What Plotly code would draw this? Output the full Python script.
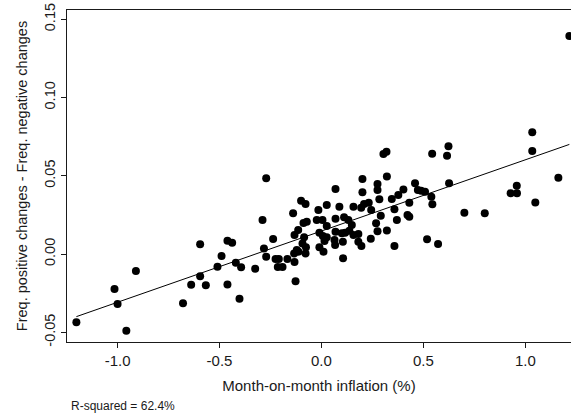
import numpy as np
import plotly.graph_objects as go

# Month-on-month inflation (%) and net frequency of price changes
inflation = [
    -1.202, -1.000, -1.015, -0.957, -0.910, -0.679, -0.639, -0.595, -0.595, -0.567,
    -0.510, -0.490, -0.461, -0.461, -0.438, -0.420, -0.394, -0.402, -0.325, -0.271,
    -0.289, -0.282, -0.271, -0.237, -0.225, -0.209, -0.214, -0.191, -0.167, -0.139,
    -0.134, -0.132, -0.127, -0.132, -0.114, -0.100, -0.078, -0.088, -0.072, -0.085,
    -0.093, -0.076, -0.113, -0.078, -0.121,
    -0.023, 0.005, 0.026, -0.015, 0.069, 0.088, 0.069, 0.026, -0.010, 0.007,
    0.026, -0.010, 0.010, 0.015, 0.064, 0.067, 0.069, 0.105, 0.106, 0.111,
    0.132, 0.116, 0.137, 0.149, 0.157, 0.181, 0.181, 0.196, 0.201, 0.201,
    0.195, 0.209, 0.232, 0.244, 0.242, 0.275, 0.275, 0.284, 0.291, 0.268,
    0.275, 0.321, 0.321, 0.345, 0.358, 0.370, 0.358, 0.377, 0.402, 0.431,
    0.422, 0.431, 0.459, 0.473, 0.489, 0.508, 0.539, 0.544, 0.518, 0.572,
    0.626, 0.701, 0.801, 0.928, 0.958, 0.959, 1.049, 1.162, 1.216, 1.034,
    1.034, 0.304, 0.319, 0.543, 0.623, 0.616, 0.100, 0.157,
]
net_freq = [
    -0.0436, -0.0319, -0.0224, -0.0490, -0.0109, -0.0315, -0.0196, -0.0142, 0.0062, -0.0200,
    -0.0081, -0.0013, -0.0194, 0.0085, 0.0072, -0.0056, -0.0085, -0.0286, -0.0094, 0.0484,
    0.0217, 0.0036, -0.0017, 0.0096, -0.0032, -0.0032, -0.0083, -0.0083, -0.0032, 0.0260,
    0.0004, -0.0051, -0.0174, 0.0121, 0.0153, 0.0341, 0.0319, 0.0198, 0.0206, 0.0107,
    0.0068, 0.0043, 0.0015, 0.0004, 0.0026,
    0.0217, 0.0217, 0.0313, 0.0281, 0.0415, 0.0302, 0.0226, 0.0179, 0.0136, 0.0115,
    0.0107, 0.0043, 0.0015, 0.0083, 0.0089, 0.0058, 0.0142, 0.0079, -0.0027, 0.0235,
    0.0217, 0.0136, 0.0149, 0.0185, 0.0302, 0.0128, 0.0079, 0.0051, 0.0479, 0.0394,
    0.0296, 0.0319, 0.0328, 0.0281, 0.0098, 0.0447, 0.0409, 0.0350, 0.0245, 0.0196,
    0.0145, 0.0496, 0.0151, 0.0351, 0.0286, 0.0217, 0.0051, 0.0377, 0.0413, 0.0328,
    0.0249, 0.0238, 0.0452, 0.0409, 0.0404, 0.0398, 0.0366, 0.0318, 0.0094, 0.0064,
    0.0452, 0.0264, 0.0260, 0.0388, 0.0436, 0.0388, 0.0330, 0.0488, 0.1393, 0.0778,
    0.0658, 0.0639, 0.0654, 0.0641, 0.0688, 0.0628, 0.0132, 0.0121,
]

# Linear fit
fit_intercept = 0.0147
fit_slope = 0.0455
r_squared = 62.4

x_ticks = [-1.0, -0.5, 0.0, 0.5, 1.0]
x_tick_labels = ["-1.0", "-0.5", "0.0", "0.5", "1.0"]
y_ticks = [-0.05, 0.0, 0.05, 0.10, 0.15]
y_tick_labels = ["-0.05", "0.00", "0.05", "0.10", "0.15"]

font_family = "Liberation Sans, Arial, sans-serif"
ink = "#1a1a1a"

fit_x = np.array([min(inflation), max(inflation)])
fit_y = fit_intercept + fit_slope * fit_x

fig = go.Figure()
fig.add_trace(go.Scatter(
    x=inflation, y=net_freq, mode="markers",
    marker=dict(color="black", size=8, line=dict(width=0)),
    showlegend=False, hoverinfo="skip",
))
fig.add_trace(go.Scatter(
    x=fit_x, y=fit_y, mode="lines",
    line=dict(color="black", width=1),
    showlegend=False, hoverinfo="skip",
))

fig.update_layout(
    width=571, height=413,
    margin=dict(l=67, r=0, t=10, b=71),
    paper_bgcolor="white", plot_bgcolor="white",
    font=dict(family=font_family, color=ink, size=14.5),
    xaxis=dict(
        range=[-1.248, 1.224],
        tickvals=x_ticks, ticktext=x_tick_labels,
        showgrid=False, zeroline=False,
        showline=True, linecolor=ink, linewidth=1.3, mirror=True,
        ticks="outside", ticklen=5, tickcolor=ink, tickwidth=1,
        tickfont=dict(size=15),
        title=dict(text="Month-on-month inflation (%)", font=dict(size=15), standoff=12),
    ),
    yaxis=dict(
        range=[-0.0562, 0.1559],
        tickvals=y_ticks, ticktext=y_tick_labels,
        tickangle=-90,
        showgrid=False, zeroline=False,
        showline=True, linecolor=ink, linewidth=1.3,
        ticks="outside", ticklen=5, tickcolor=ink, tickwidth=1,
        tickfont=dict(size=14.5),
        title=dict(text="Freq. positive changes - Freq. negative changes",
                   font=dict(size=14.5), standoff=10),
    ),
    annotations=[dict(
        text=f"R-squared = {r_squared}%",
        xref="paper", yref="paper", x=0.004, y=-0.193,
        xanchor="left", yanchor="middle", showarrow=False,
        font=dict(size=12, family=font_family, color=ink),
    )],
)

fig.write_html("out.html")
